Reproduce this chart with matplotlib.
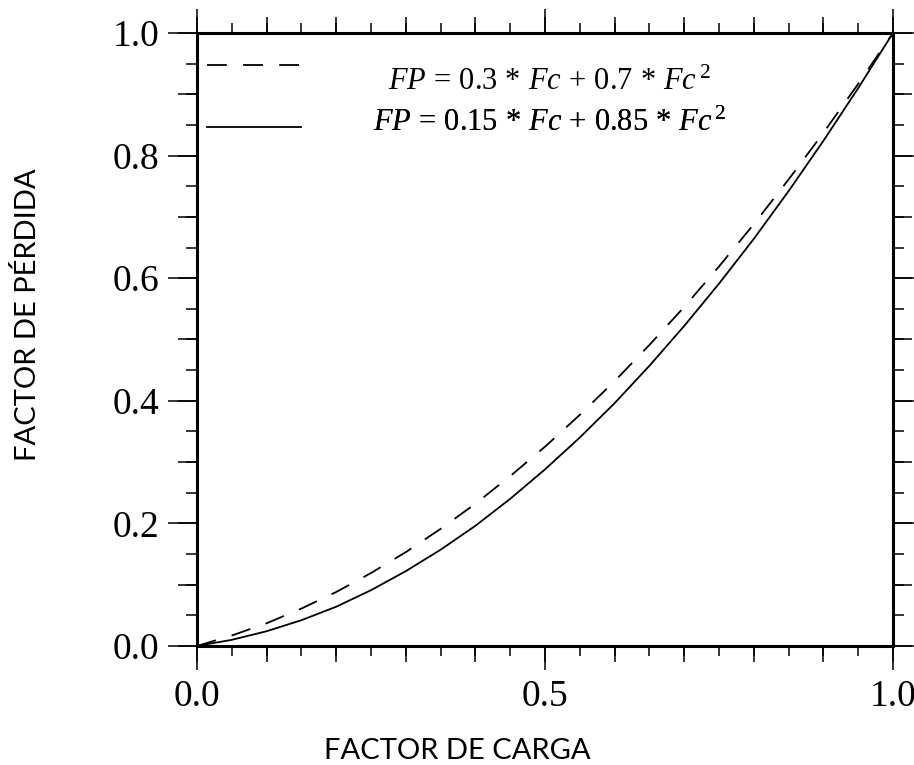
import numpy as np
import matplotlib

matplotlib.use("Agg")
from matplotlib import pyplot as plt

plt.rc("font", family="Liberation Serif")
plt.rc("mathtext", fontset="custom", rm="Liberation Serif",
       it="Liberation Serif:italic", bf="Liberation Serif:bold")

# load factor (x) and loss factor
factor_carga = [0.0, 0.05, 0.10, 0.15, 0.20, 0.25, 0.30, 0.35, 0.40, 0.45, 0.50,
                0.55, 0.60, 0.65, 0.70, 0.75, 0.80, 0.85, 0.90, 0.95, 1.0]
fp_dashed = [0.0, 0.017, 0.037, 0.061, 0.088, 0.119, 0.153, 0.191, 0.232, 0.277, 0.325,
             0.377, 0.432, 0.491, 0.553, 0.619, 0.688, 0.761, 0.837, 0.917, 1.0]
fp_solid = [0.0, 0.010, 0.024, 0.042, 0.064, 0.091, 0.122, 0.157, 0.196, 0.240, 0.288,
            0.340, 0.396, 0.457, 0.522, 0.591, 0.664, 0.742, 0.824, 0.910, 1.0]
labels = [r"$FP\,=\,0.3\,*\,Fc\,+\,0.7\,*\,Fc^{\,2}$",
          r"$FP\,=\,0.15\,*\,Fc\,+\,0.85\,*\,Fc^{\,2}$"]

x_major = [0.0, 0.5, 1.0]
x_mid = np.arange(0, 1.01, 0.1)
x_minor = np.arange(0, 1.001, 0.05)
y_major = np.arange(0, 1.01, 0.2)
y_mid = np.arange(0, 1.01, 0.1)
y_minor = np.arange(0, 1.001, 0.05)

fig = plt.figure(figsize=(9.14, 7.65), dpi=100)
ax = fig.add_axes([0.2155, 0.1556, 0.977 - 0.2155, 0.9569 - 0.1556])

lw = 1.3
l1, = ax.plot(factor_carga, fp_dashed, color="k", lw=lw, ls=(0, (11, 9)))
l2, = ax.plot(factor_carga, fp_solid, color="k", lw=lw)

ax.set_xlim(0, 1)
ax.set_ylim(0, 1)
for s in ax.spines.values():
    s.set_linewidth(2.2)

ax.set_xticks(x_major)
ax.set_xticklabels(["0.0", "0.5", "1.0"])
ax.set_xticks(x_minor, minor=True)
ax.set_yticks(y_major)
ax.set_yticklabels([f"{v:.1f}" for v in y_major])
ax.set_yticks(y_minor, minor=True)
ax.tick_params(axis="x", which="major", direction="out", length=17, width=1.1,
               top=True, bottom=True, labelsize=27, pad=7)
ax.tick_params(axis="x", which="minor", direction="out", length=7, width=1.1,
               top=True, bottom=True)
ax.tick_params(axis="y", which="major", direction="out", length=21, width=1.1,
               left=True, right=True, labelsize=27, pad=6)
ax.tick_params(axis="y", which="minor", direction="out", length=8, width=1.1,
               left=True, right=True)

# medium-length ticks at every 0.1
for loc in ["bottom", "top"]:
    sec = ax.secondary_xaxis(loc)
    sec.set_xticks(x_mid)
    sec.set_xticklabels([])
    sec.tick_params(direction="out", length=11.5, width=1.1)
    for s in sec.spines.values():
        s.set_visible(False)
for loc in ["left", "right"]:
    sec = ax.secondary_yaxis(loc)
    sec.set_yticks(y_mid)
    sec.set_yticklabels([])
    sec.tick_params(direction="out", length=13.5, width=1.1)
    for s in sec.spines.values():
        s.set_visible(False)

ax.set_xlabel("FACTOR DE CARGA", family="Lato", fontsize=21, va="center")
ax.xaxis.set_label_coords(0.374, -0.171)
ax.set_ylabel("FACTOR DE PÉRDIDA", family="Lato", fontsize=21, va="center")
ax.yaxis.set_label_coords(-0.243, 0.54)

# legend: key lines at the left, formulas centred further right
line_rows = [0.9429, 0.8418]
text_rows = [0.919, 0.853]
for h, ly, lab, ty in zip([l1, l2], line_rows, labels, text_rows):
    kl = ax.legend([h], [""], loc="center left", bbox_to_anchor=(0.0144, ly),
                   frameon=False, fontsize=20, handlelength=3.4, handletextpad=0,
                   borderpad=0, borderaxespad=0)
    ax.add_artist(kl)
    kt = ax.legend([h], [lab], loc="center", bbox_to_anchor=(0.507, ty),
                   frameon=False, fontsize=22, handlelength=0, handletextpad=0,
                   borderpad=0, borderaxespad=0)
    kt.legend_handles[0].set_visible(False)
    ax.add_artist(kt)

fig.savefig("out.png", dpi=100)
